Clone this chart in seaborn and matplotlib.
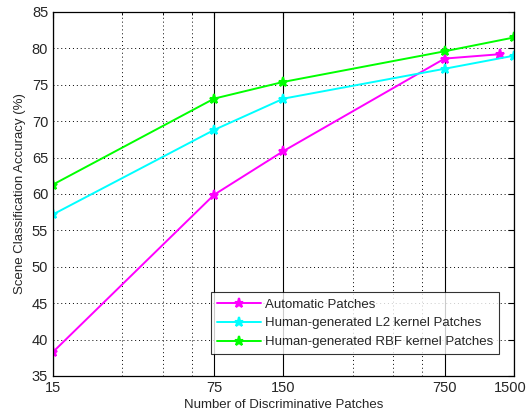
import matplotlib
matplotlib.use("Agg")
import matplotlib.pyplot as plt
import matplotlib.ticker as mticker
import matplotlib.transforms as mtransforms
import seaborn as sns
import pandas as pd

# values
auto_x = [15, 75, 150, 750, 1300]
auto_y = [38.3, 59.9, 65.9, 78.6, 79.2]
l2_x = [15, 75, 150, 750, 1500]
l2_y = [57.2, 68.8, 73.1, 77.2, 79.0]
rbf_x = [15, 75, 150, 750, 1500]
rbf_y = [61.3, 73.1, 75.4, 79.6, 81.5]

names = ["Automatic Patches",
         "Human-generated L2 kernel Patches",
         "Human-generated RBF kernel Patches"]
colors = ["#ff00ff", "#00ffff", "#00ff00"]

x_major = [15, 75, 150, 750, 1500]
x_minor = [30, 45, 60, 300, 450, 600]

df = pd.concat([
    pd.DataFrame({"patches": auto_x, "acc": auto_y, "series": names[0]}),
    pd.DataFrame({"patches": l2_x, "acc": l2_y, "series": names[1]}),
    pd.DataFrame({"patches": rbf_x, "acc": rbf_y, "series": names[2]}),
])

sns.set_style("white")
plt.rcParams['font.family'] = ['Liberation Sans', 'DejaVu Sans']

fig = plt.figure(figsize=(5.27, 4.12), dpi=100)
ax = fig.add_axes([0.1006, 0.0874, 0.8747, 0.8835])

for name, color in zip(names, colors):
    sub = df[df["series"] == name]
    sns.lineplot(data=sub, x="patches", y="acc", color=color, marker="*",
                 markersize=6.5, markeredgecolor=color, markeredgewidth=1.5,
                 linewidth=1.4, label=name, ax=ax, sort=False)

ax.set_xscale("log")
ax.set_xlim(15, 1500)
ax.set_ylim(35, 85)
ax.xaxis.set_major_locator(mticker.FixedLocator(x_major))
ax.xaxis.set_major_formatter(mticker.FixedFormatter([str(v) for v in x_major]))
ax.xaxis.set_minor_locator(mticker.FixedLocator(x_minor))
ax.xaxis.set_minor_formatter(mticker.NullFormatter())
ax.yaxis.set_major_locator(mticker.MultipleLocator(5))

ax.grid(True, which="major", axis="x", color="black", linestyle="-", linewidth=0.8)
ax.grid(True, which="minor", axis="x", color="black", linestyle=(0, (1, 3)), linewidth=0.7)
ax.grid(True, which="major", axis="y", color="black", linestyle=(0, (1, 3)), linewidth=0.7)
ax.set_axisbelow(True)

for s in ax.spines.values():
    s.set_color("black")
    s.set_linewidth(0.9)

ax.tick_params(which="both", direction="in", top=True, right=True,
               labelsize=10.5, length=4, color="black")
ax.tick_params(which="minor", length=2)

# keep the last x label inside the figure
last = ax.get_xticklabels()[-1]
last.set_transform(last.get_transform() +
                   mtransforms.ScaledTranslation(-4 / 100, 0, fig.dpi_scale_trans))

ax.set_xlabel("Number of Discriminative Patches", fontsize=9.5, labelpad=3)
ax.set_ylabel("Scene Classification Accuracy (%)", fontsize=9.5, labelpad=4)

leg = ax.legend(loc="lower right", bbox_to_anchor=(0.967, 0.06), borderaxespad=0,
                fontsize=9.5, frameon=True, fancybox=False, edgecolor="black",
                borderpad=0.45, labelspacing=0.5, handlelength=3.3,
                handletextpad=0.3)
leg.get_frame().set_linewidth(0.8)

fig.savefig("out.png", dpi=100)
